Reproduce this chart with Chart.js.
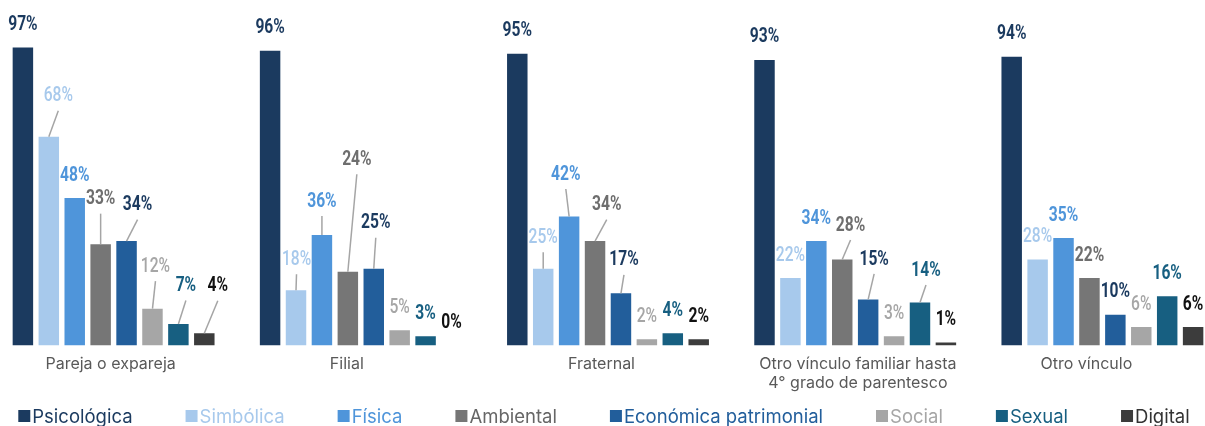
<!DOCTYPE html>
<html>
<head>
<meta charset="utf-8">
<script src="https://cdn.jsdelivr.net/npm/chart.js@4"></script>
<style>
html, body { margin: 0; padding: 0; background: #fff; overflow: hidden; }
/* the groups sit slightly wider than the window in the original, so the canvas overhangs a little */
#wrap { position: absolute; left: -10px; top: 0; width: 1236px; height: 426px; }
</style>
</head>
<body>
<div id="wrap"><canvas id="chart"></canvas></div>
<script>
// data
const categories = [
    ['Pareja o expareja'],
    ['Filial'],
    ['Fraternal'],
    ['Otro vínculo familiar hasta', '4° grado de parentesco'],
    ['Otro vínculo']
];
const seriesNames = ['Psicológica', 'Simbólica', 'Física', 'Ambiental', 'Económica patrimonial', 'Social', 'Sexual', 'Digital'];
const psicologica = [97, 96, 95, 93, 94];
const simbolica   = [68, 18, 25, 22, 28];
const fisica      = [48, 36, 42, 34, 35];
const ambiental   = [33, 24, 34, 28, 22];
const economica   = [34, 25, 17, 15, 10];
const social      = [12, 5, 2, 3, 6];
const sexual      = [7, 3, 4, 14, 16];
const digital     = [4, 0, 2, 1, 6];
const seriesValues = [psicologica, simbolica, fisica, ambiental, economica, social, sexual, digital];

// styles
const barColors   = ['#1b3a5f', '#a7c9ec', '#4f95da', '#767676', '#225e9b', '#a6a6a6', '#175f81', '#3c3c3c'];
const labelColors = ['#1b3a5f', '#a7c9ec', '#4f95da', '#6e6e6e', '#1b3a5f', '#a6a6a6', '#175f81', '#111111'];
const labelWeights = ['bold', '500', 'bold', 'bold', 'bold', '500', 'bold', 'bold'];
const legendColors = ['#1b3a5f', '#a7c9ec', '#4f95da', '#666666', '#225e9b', '#a6a6a6', '#175f81', '#333333'];

// value labels that were moved off their bar and got a leader line: "series-category": [dx, dy from bar top]
const labelNudge = {
    '1-0': [9.5, -42.5], '3-0': [0, -47], '4-0': [11, -38], '5-0': [3, -44], '6-0': [7.5, -40], '7-0': [13.5, -49],
    '1-1': [0.5, -32.5], '2-1': [0, -35.5], '3-1': [9, -114], '4-1': [2, -47.5],
    '1-2': [0, -33], '2-2': [-3.3, -44], '3-2': [11.7, -38], '4-2': [3, -35],
    '3-3': [8.3, -36], '4-3': [6, -42], '6-3': [6, -34]
};
// category captions are not quite centred under their groups
const captionNudge = [-3, -14, -6.5, 2.7, -16];

const valueLabels = {
    id: 'valueLabels',
    afterDatasetsDraw(chart) {
        const ctx = chart.ctx;
        chart.data.datasets.forEach((ds, s) => {
            chart.getDatasetMeta(s).data.forEach((bar, c) => {
                const nudge = labelNudge[s + '-' + c];
                const lx = bar.x + (nudge ? nudge[0] : 0);
                const ly = bar.y + (nudge ? nudge[1] : -24.5);
                if (nudge) {
                    ctx.save();
                    ctx.strokeStyle = '#a5a5a5';
                    ctx.lineWidth = 1.5;
                    ctx.beginPath();
                    ctx.moveTo(lx, ly + 16.5);
                    ctx.lineTo(bar.x, bar.y);
                    ctx.stroke();
                    ctx.restore();
                }
                ctx.save();
                ctx.translate(lx, ly + 7.1);
                ctx.scale(0.78, 1); // condensed look
                ctx.font = labelWeights[s] + ' 20px Roboto';
                ctx.fillStyle = labelColors[s];
                ctx.textAlign = 'center';
                ctx.textBaseline = 'alphabetic';
                ctx.fillText(ds.data[c] + '%', 0, 0);
                ctx.restore();
            });
        });
    }
};

const categoryCaptions = {
    id: 'categoryCaptions',
    afterDraw(chart) {
        const ctx = chart.ctx;
        const xScale = chart.scales.x;
        ctx.save();
        ctx.font = '16px Inter';
        ctx.fillStyle = '#595959';
        ctx.textAlign = 'center';
        ctx.textBaseline = 'alphabetic';
        categories.forEach((lines, i) => {
            const x = xScale.getPixelForValue(i) + captionNudge[i];
            lines.forEach((line, k) => ctx.fillText(line, x, 369 + k * 19));
        });
        ctx.restore();
    }
};

// one-row legend: small square hugging the text, wide gaps between items
const bottomLegend = {
    id: 'bottomLegend',
    afterDraw(chart) {
        const ctx = chart.ctx;
        const box = 12, boxGap = 2, itemGap = 53, centre = 614;
        ctx.save();
        ctx.font = '18.5px Inter';
        ctx.textBaseline = 'alphabetic';
        const items = chart.data.datasets.map((ds, i) => ({ ds, i, w: box + boxGap + ctx.measureText(ds.label).width }));
        const total = items.reduce((sum, it) => sum + it.w, 0) + itemGap * (items.length - 1);
        let x = centre - total / 2;
        items.forEach(it => {
            ctx.fillStyle = it.ds.backgroundColor;
            ctx.fillRect(x, 410, box, box);
            ctx.fillStyle = legendColors[it.i];
            ctx.fillText(it.ds.label, x + box + boxGap, 422.5);
            x += it.w + itemGap;
        });
        ctx.restore();
    }
};

new Chart(document.getElementById('chart'), {
    type: 'bar',
    data: {
        labels: categories.map(c => c.join(' ')),
        datasets: seriesNames.map((name, i) => ({
            label: name,
            data: seriesValues[i],
            backgroundColor: barColors[i],
            borderWidth: 0,
            categoryPercentage: 0.8387,
            barPercentage: 0.79
        }))
    },
    options: {
        responsive: true,
        maintainAspectRatio: false,
        animation: false,
        layout: { padding: { top: 0, left: 0, right: 0, bottom: 80.5 } },
        scales: {
            x: {
                grid: { display: false },
                border: { display: false },
                ticks: { display: false },
                afterFit: (scale) => { scale.height = 0; }
            },
            y: {
                display: false,
                min: 0,
                max: 112.5
            }
        },
        plugins: {
            tooltip: { enabled: false },
            legend: { display: false }
        }
    },
    plugins: [valueLabels, categoryCaptions, bottomLegend]
});
</script>
</body>
</html>
